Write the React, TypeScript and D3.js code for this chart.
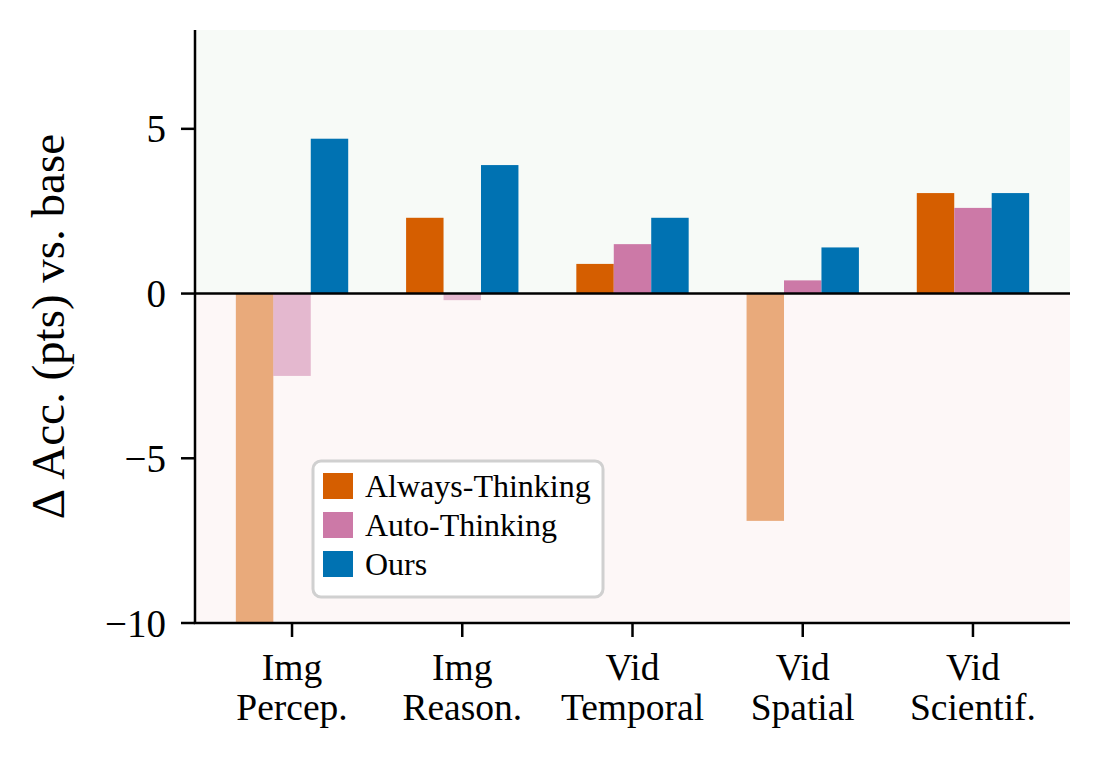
import React from 'react';
import * as d3 from 'd3';

// categories (two-line tick labels)
const categories = [
  ['Img', 'Percep.'],
  ['Img', 'Reason.'],
  ['Vid', 'Temporal'],
  ['Vid', 'Spatial'],
  ['Vid', 'Scientif.'],
];

const seriesNames = ['Always-Thinking', 'Auto-Thinking', 'Ours'];
const seriesColors = ['#D55E00', '#CC79A7', '#0072B2'];

// delta accuracy vs base, one array per series
const alwaysThinking = [-10.4, 2.3, 0.9, -6.9, 3.05];
const autoThinking = [-2.5, -0.2, 1.5, 0.4, 2.6];
const ours = [4.7, 3.9, 2.3, 1.4, 3.05];

const yTicks = [-10, -5, 0, 5];

const W = 1100;
const H = 760;
const left = 195, right = 1070, top = 30, bottom = 623;
const font = '"Liberation Serif", "DejaVu Serif", serif';

const App = () => {
  const series = [alwaysThinking, autoThinking, ours];
  const x = d3.scaleLinear().domain([-0.57, 4.57]).range([left, right]);
  const y = d3.scaleLinear().domain([-10, 8]).range([bottom, top]);
  const barW = 0.22;

  const bars = [];
  series.forEach((vals, s) => {
    vals.forEach((v, i) => {
      const cx = i + (s - 1) * barW;
      const x0 = x(cx - barW / 2);
      const x1 = x(cx + barW / 2);
      const y0 = y(Math.max(0, v));
      const y1 = y(Math.min(0, v));
      bars.push(
        <rect key={`${s}-${i}`} x={x0} y={y0} width={x1 - x0} height={y1 - y0}
          fill={seriesColors[s]} fillOpacity={v < 0 ? 0.5 : 1} />
      );
    });
  });

  const legendX = 313, legendY = 461;

  return (
    <div style={{ position: 'absolute', left: 0, top: 0 }}>
      <svg width={W} height={H} style={{ display: 'block', background: '#fff' }}>
        <defs>
          <clipPath id="plot">
            <rect x={left} y={top} width={right - left} height={bottom - top} />
          </clipPath>
        </defs>
        {/* shaded regions */}
        <rect x={left} y={y(8)} width={right - left} height={y(0) - y(8)} fill="#f7faf7" />
        <rect x={left} y={y(0)} width={right - left} height={y(-10) - y(0)} fill="#fdf7f7" />

        <g clipPath="url(#plot)">{bars}</g>

        {/* zero line */}
        <line x1={left} x2={right} y1={y(0)} y2={y(0)} stroke="#000" strokeWidth={2.5} />

        {/* spines */}
        <line x1={left} x2={left} y1={top} y2={bottom} stroke="#000" strokeWidth={2.5} />
        <line x1={left - 1.25} x2={right} y1={bottom} y2={bottom} stroke="#000" strokeWidth={2.5} />

        {/* y ticks */}
        {yTicks.map(t => (
          <g key={t}>
            <line x1={left - 14} x2={left} y1={y(t)} y2={y(t)} stroke="#000" strokeWidth={2.5} />
            <text x={left - 29} y={y(t)} dy="0.35em" textAnchor="end" fontFamily={font} fontSize={39}>
              {t < 0 ? `\u2212${Math.abs(t)}` : t}
            </text>
          </g>
        ))}

        {/* x ticks */}
        {categories.map((c, i) => (
          <g key={i}>
            <line x1={x(i)} x2={x(i)} y1={bottom} y2={bottom + 14} stroke="#000" strokeWidth={2.5} />
            <text x={x(i)} textAnchor="middle" fontFamily={font} fontSize={37.5}>
              <tspan x={x(i)} y={680}>{c[0]}</tspan>
              <tspan x={x(i)} y={720}>{c[1]}</tspan>
            </text>
          </g>
        ))}

        {/* y label */}
        <text transform={`translate(64, ${(130 + 523) / 2}) rotate(-90)`} textAnchor="middle"
          fontFamily={font} fontSize={47}>
          Δ Acc. (pts) vs. base
        </text>

        {/* legend */}
        <rect x={legendX} y={legendY} width={290} height={136} rx={8} ry={8}
          fill="#fff" fillOpacity={0.9} stroke="#d0d0d0" strokeWidth={3} />
        {seriesNames.map((n, i) => (
          <g key={n}>
            <rect x={323} y={473 + i * 39} width={30} height={26} fill={seriesColors[i]} />
            <text x={365} y={486 + i * 39} dy="0.35em" fontFamily={font} fontSize={32}>{n}</text>
          </g>
        ))}
      </svg>
    </div>
  );
};

export default App;
